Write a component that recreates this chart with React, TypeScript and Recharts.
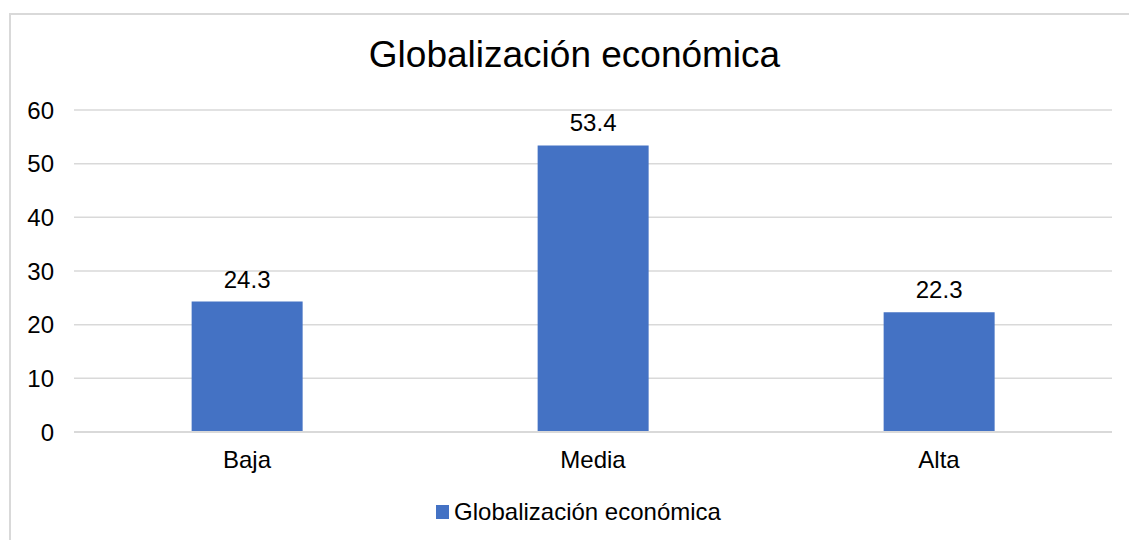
import React from 'react';
import { BarChart, Bar, XAxis, YAxis, CartesianGrid, LabelList, Legend } from 'recharts';

const categories = ['Baja', 'Media', 'Alta'];
const values = [24.3, 53.4, 22.3];
const yTicks = [0, 10, 20, 30, 40, 50, 60];
const seriesName = 'Globalización económica';
const title = 'Globalización económica';

const data = categories.map((c, i) => ({ name: c, value: values[i] }));

const FONT = '"Liberation Sans", Arial, sans-serif';

const LegendContent = () => (
  <div style={{ display: 'flex', justifyContent: 'center', alignItems: 'center', fontFamily: FONT, fontSize: 24, lineHeight: '28px', height: 28, color: '#000', paddingLeft: 45 }}>
    <span style={{ display: 'inline-block', width: 13, height: 14, background: '#4472C4', marginRight: 5 }} />
    <span>{seriesName}</span>
  </div>
);

export default function App() {
  return (
    <div style={{ position: 'absolute', left: 0, top: 0, width: 1129, height: 540, background: '#fff', overflow: 'hidden' }}>
      <div style={{ position: 'absolute', left: 9, top: 13, width: 1130, height: 540, border: '2px solid #d9d9d9', boxSizing: 'border-box' }} />
      <div style={{ position: 'absolute', left: 0, top: 34, width: 1149, textAlign: 'center', fontFamily: FONT, fontSize: 37, lineHeight: '42px', color: '#000' }}>
        {title}
      </div>
      <div style={{ position: 'absolute', left: 0, top: 0 }}>
        <BarChart width={1129} height={540} data={data} margin={{ top: 110, right: 17, bottom: 0, left: 0 }} barCategoryGap="34%">
          <CartesianGrid vertical={false} stroke="#d9d9d9" strokeWidth={1.5} />
          <XAxis
            dataKey="name"
            axisLine={{ stroke: '#d9d9d9', strokeWidth: 2 }}
            tickLine={false}
            tickSize={0}
            tickMargin={19}
            height={80}
            tick={{ fill: '#000', fontSize: 24, fontFamily: FONT }}
          />
          <YAxis
            domain={[0, 60]}
            ticks={yTicks}
            axisLine={false}
            tickLine={false}
            tickSize={0}
            tickMargin={20}
            width={74}
            tick={{ fill: '#000', fontSize: 24, fontFamily: FONT }}
          />
          <Legend verticalAlign="bottom" content={<LegendContent />} wrapperStyle={{ bottom: 14 }} />
          <Bar dataKey="value" name={seriesName} fill="#4472C4" isAnimationActive={false}>
            <LabelList dataKey="value" position="top" offset={14} style={{ fill: '#000', fontSize: 24, fontFamily: FONT }} />
          </Bar>
        </BarChart>
      </div>
    </div>
  );
}
